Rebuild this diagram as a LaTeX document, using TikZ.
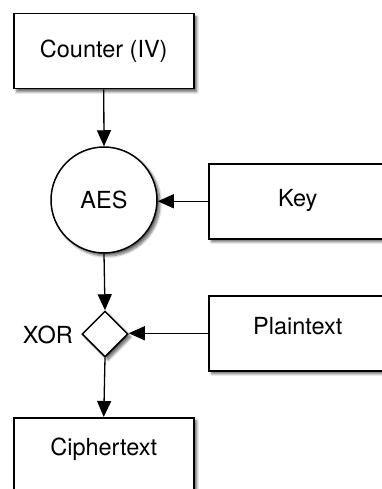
\documentclass[tikz,border=0pt]{standalone}
\usepackage{fontspec}
\setmainfont{TeX Gyre Heros}
\usetikzlibrary{arrows.meta,shapes.geometric,shadows.blur}
\begin{document}
\begin{tikzpicture}[x=1pt,y=-1pt,
  font=\fontsize{23.5}{27}\selectfont,
  shade/.style={blur shadow={shadow xshift=3pt,shadow yshift=-3pt,shadow blur steps=6,shadow opacity=60,shadow blur radius=2.5pt}},
  blockbox/.style={draw,line width=1.5pt,fill=white,shade,minimum width=180pt,minimum height=75pt,inner sep=0pt,anchor=north west},
  flow/.style={line width=1.3pt,-{Triangle[length=16pt,width=14pt]}}]
  \useasboundingbox (0,0) rectangle (382,489);
  \begin{scope}
  \clip (0,0) rectangle (382,489);
  \node[blockbox] (counter) at (13,13) {Counter (IV)};
  \node[circle,draw,line width=1.5pt,fill=white,shade,minimum size=106pt,inner sep=0pt] (aes) at (104,200) {AES};
  \node[blockbox,minimum width=178pt,text depth=6pt] (key) at (208,163) {Key};
  \node[diamond,draw,line width=1.5pt,fill=white,shade,minimum width=46pt,minimum height=46pt,inner sep=0pt] (xor) at (105,334) {};
  \node[anchor=east,inner sep=0pt] (xorlabel) at (73,335) {XOR};
  \node[blockbox,minimum width=178pt,text depth=15pt] (plain) at (208,295) {Plaintext};
  \node[blockbox,text depth=17pt] (cipher) at (13,417) {Ciphertext};
  \draw[flow] (counter.south) -- (aes.north);
  \draw[flow] (key.west) -- (key.west -| aes.east);
  \draw[flow] (aes.south) -- (xor.north);
  \draw[flow] (plain.west) -- (plain.west -| xor.east);
  \draw[flow] (xor.south) -- (cipher.north);
  \end{scope}
\end{tikzpicture}
\end{document}
